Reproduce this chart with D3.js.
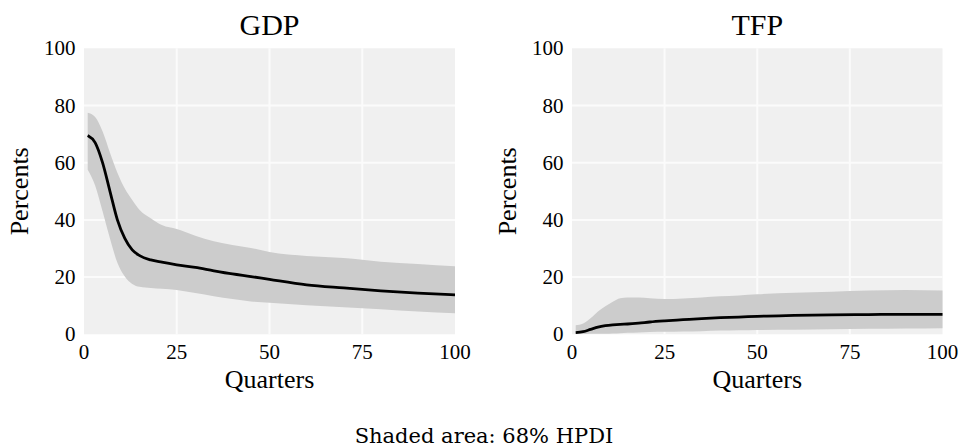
<!DOCTYPE html>
<html>
<head>
<meta charset="utf-8">
<script src="https://cdn.jsdelivr.net/npm/d3@7"></script>
<style>
  body { margin: 0; background: #fff; }
  text { font-family: "Liberation Serif", "Times New Roman", serif; fill: #000; }
</style>
</head>
<body>
<svg id="chart" width="960" height="445"></svg>
<script>
var quarters = [1, 3, 5, 7, 9, 11, 13, 15, 18, 21, 25, 30, 35, 40, 45, 50, 60, 70, 80, 90, 100];

var gdpMid = [69.5, 67, 60, 50, 40, 33.5, 29.5, 27.5, 26, 25.2, 24.3, 23.4, 22.2, 21.1, 20.2, 19.2, 17.3, 16.2, 15.2, 14.4, 13.8];
var gdpHi  = [77.5, 76, 71, 63.5, 56.5, 51, 47, 43.5, 40.6, 38.2, 36.8, 34.5, 32.5, 31.2, 30.2, 28.8, 27.4, 26.7, 25.4, 24.6, 23.8];
var gdpLo  = [57.5, 52, 43, 33.5, 25, 20.2, 17.6, 16.6, 16.2, 15.9, 15.5, 14.4, 13.3, 12.3, 11.5, 11.0, 10.2, 9.5, 8.8, 8.0, 7.4];

var tfpMid = [0.6, 0.9, 1.7, 2.5, 3.0, 3.3, 3.5, 3.6, 3.9, 4.3, 4.7, 5.1, 5.5, 5.8, 6.0, 6.3, 6.6, 6.8, 6.9, 7.0, 7.0];
var tfpHi  = [3.2, 3.8, 5.6, 8.0, 9.8, 11.4, 12.6, 12.9, 12.9, 12.6, 12.3, 12.5, 12.9, 13.3, 13.6, 14.0, 14.5, 14.9, 15.3, 15.5, 15.3];
var tfpLo  = [0.1, 0.1, 0.2, 0.2, 0.2, 0.3, 0.4, 0.5, 0.6, 0.8, 0.9, 1.0, 1.1, 1.3, 1.4, 1.5, 1.6, 1.8, 1.9, 2.0, 2.1];

var xTicks = [0, 25, 50, 75, 100];
var yTicks = [0, 20, 40, 60, 80, 100];
var caption = "Shaded area: 68% HPDI";

var svg = d3.select("#chart");
var plotTop = 48.3, plotBottom = 334.3;

function drawPanel(left, right, title, mid, lo, hi) {
    var x = d3.scaleLinear().domain([0, 100]).range([left, right]);
    var y = d3.scaleLinear().domain([0, 100]).range([plotBottom, plotTop]);
    var g = svg.append("g");

    g.append("rect")
        .attr("x", x(0)).attr("y", y(100))
        .attr("width", x(100) - x(0)).attr("height", y(0) - y(100))
        .attr("fill", "#f0f0f0");

    // grid
    g.selectAll(".gx").data(xTicks.slice(1, -1)).enter().append("line")
        .attr("x1", d => x(d)).attr("x2", d => x(d))
        .attr("y1", y(0)).attr("y2", y(100))
        .attr("stroke", "#fbfbfb").attr("stroke-width", 2);
    g.selectAll(".gy").data(yTicks.slice(1, -1)).enter().append("line")
        .attr("x1", x(0)).attr("x2", x(100))
        .attr("y1", d => y(d)).attr("y2", d => y(d))
        .attr("stroke", "#fbfbfb").attr("stroke-width", 2);

    var rows = quarters.map(function(q, i) { return {q: q, m: mid[i], lo: lo[i], hi: hi[i]}; });

    var area = d3.area()
        .x(d => x(d.q)).y0(d => y(d.lo)).y1(d => y(d.hi))
        .curve(d3.curveMonotoneX);
    g.append("path").datum(rows).attr("d", area).attr("fill", "#cccccc");

    var line = d3.line().x(d => x(d.q)).y(d => y(d.m)).curve(d3.curveMonotoneX);
    g.append("path").datum(rows).attr("d", line)
        .attr("fill", "none").attr("stroke", "#000").attr("stroke-width", 2.8);

    // tick labels
    g.selectAll(".xl").data(xTicks).enter().append("text")
        .attr("x", d => x(d)).attr("y", 358.5)
        .attr("text-anchor", "middle").attr("font-size", 21)
        .text(d => d);
    g.selectAll(".yl").data(yTicks).enter().append("text")
        .attr("x", x(0) - 8.5).attr("y", d => y(d)).attr("dy", "0.34em")
        .attr("text-anchor", "end").attr("font-size", 21)
        .text(d => d);

    g.append("text")
        .attr("x", (left + right) / 2).attr("y", 35)
        .attr("text-anchor", "middle").attr("font-size", 30)
        .text(title);
    g.append("text")
        .attr("x", (left + right) / 2).attr("y", 388)
        .attr("text-anchor", "middle").attr("font-size", 26)
        .text("Quarters");
    g.append("text")
        .attr("transform", "translate(" + (left - 56) + "," + ((plotTop + plotBottom) / 2) + ") rotate(-90)")
        .attr("text-anchor", "middle").attr("font-size", 26)
        .text("Percents");
}

drawPanel(84, 455, "GDP", gdpMid, gdpLo, gdpHi);
drawPanel(572, 942.5, "TFP", tfpMid, tfpLo, tfpHi);

svg.append("text")
    .attr("x", 484).attr("y", 442.5)
    .attr("text-anchor", "middle")
    .style("font-family", "'DejaVu Serif', serif")
    .attr("font-size", 21)
    .text(caption);
</script>
</body>
</html>
